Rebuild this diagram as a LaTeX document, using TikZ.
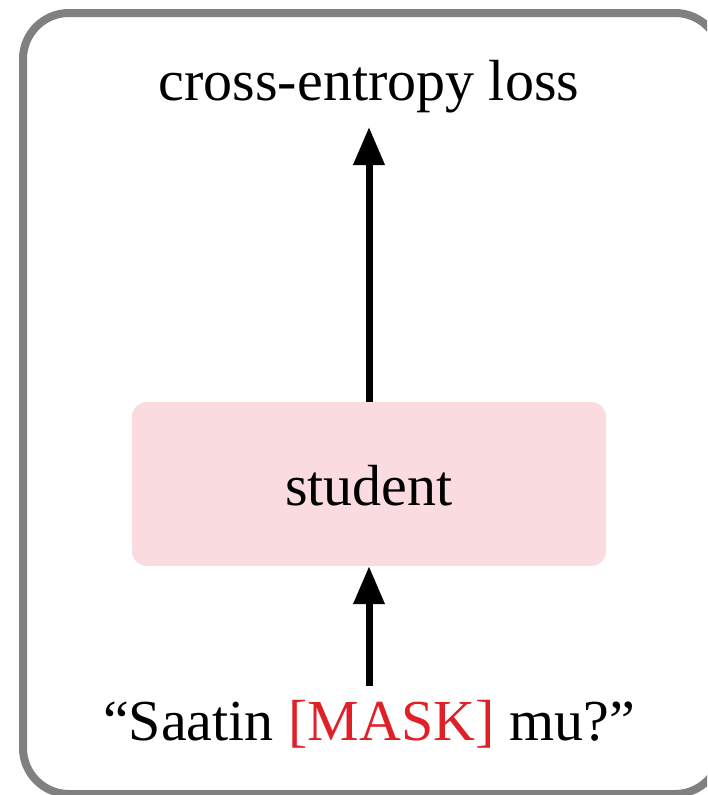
\documentclass[tikz,border=0pt]{standalone}
\usepackage{fontspec}
\setmainfont{Liberation Serif}
\usetikzlibrary{arrows.meta}
\definecolor{framegray}{HTML}{808080}
\definecolor{boxpink}{HTML}{FADCE0}
\definecolor{maskred}{HTML}{E02027}
\tikzset{
  lbl/.style={anchor=base, inner sep=0pt, font=\fontsize{58}{66}\selectfont},
  flow/.style={line width=7pt, -{Triangle[width=30pt,length=38pt]}},
  boxstyle/.style={fill=boxpink, rounded corners=15pt, minimum width=474pt, minimum height=164pt, inner sep=0pt, font=\fontsize{58}{66}\selectfont}
}
\begin{document}
\begin{tikzpicture}[x=1pt,y=-1pt]
\useasboundingbox (0,0) rectangle (707,795);
\begin{scope}
\clip (0,0) rectangle (707,795);
\draw[framegray, line width=8pt, rounded corners=46pt] (23,13) rectangle (721,794);
\end{scope}
\node[boxstyle] (student) at (369,484) {};
\node[lbl] (studtxt) at (369,505) {student};
\node[lbl] (loss) at (369,100) {cross-entropy loss};
\node[lbl] (input) at (369,740) {“Saatin \textcolor{maskred}{[MASK]} mu?”};
\coordinate (lossbot) at (369,127);
\coordinate (inputtop) at (369,686);
\draw[flow] (student.north) -- (lossbot);
\draw[flow] (inputtop) -- (student.south);
\end{tikzpicture}
\end{document}
